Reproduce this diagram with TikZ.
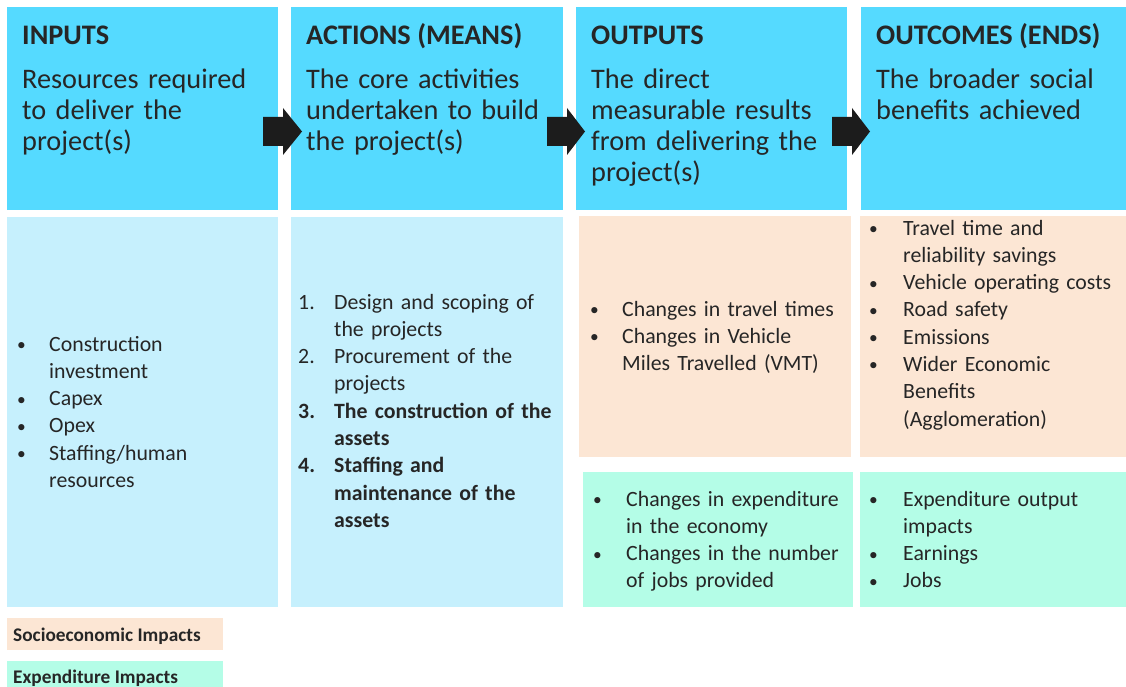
\documentclass[tikz,border=0pt]{standalone}
\usepackage{fontspec}
\setmainfont{Carlito}
\definecolor{topc}{HTML}{55DAFF}
\definecolor{lightc}{HTML}{C6F0FD}
\definecolor{peach}{HTML}{FCE6D4}
\definecolor{mint}{HTML}{B4FDE7}
\definecolor{ink}{HTML}{262626}
\definecolor{arr}{HTML}{1C1C1C}
\newcommand\itm[3]{\noindent\hangindent=#1\hangafter=1\makebox[#1][l]{#2}#3\par}
\newcommand\bul{\raisebox{0.6pt}{\scalebox{0.8}{\textbullet}}}
\begin{document}
\begin{tikzpicture}[x=1pt,y=-1pt,
  panel/.style={anchor=north west,inner sep=0,outer sep=0,draw=none},
  head/.style={anchor=base west,inner sep=0,text=ink,font=\fontsize{28.3}{31}\selectfont\bfseries},
  body/.style={anchor=base west,inner sep=0,text=ink,align=left,text width=#1,font=\fontsize{28.3}{31}\selectfont},
  list/.style={anchor=base west,inner sep=0,text=ink,align=left,text width=#1,font=\fontsize{21.8}{27.3}\selectfont},
  legend/.style={anchor=base west,inner sep=0,text=ink,font=\fontsize{19.3}{22}\selectfont\bfseries},
  blockarrow/.style={fill=arr,draw=none}]
\useasboundingbox (0,0) rectangle (1126,687);
% top row
\node[panel,fill=topc,minimum width=271pt,minimum height=203pt] (b1) at (7,7) {};
\node[panel,fill=topc,minimum width=272pt,minimum height=203pt] (b2) at (291,7) {};
\node[panel,fill=topc,minimum width=271pt,minimum height=203pt] (b3) at (576,7) {};
\node[panel,fill=topc,minimum width=265pt,minimum height=203pt] (b4) at (861,7) {};
% bottom row
\node[panel,fill=lightc,minimum width=271pt,minimum height=390pt] (c1) at (7,217) {};
\node[panel,fill=lightc,minimum width=272pt,minimum height=390pt] (c2) at (291,217) {};
\node[panel,fill=peach,minimum width=272pt,minimum height=241pt] (s3) at (579,216) {};
\node[panel,fill=peach,minimum width=266pt,minimum height=241pt] (s4) at (860,216) {};
\node[panel,fill=mint,minimum width=270pt,minimum height=135pt] (e3) at (583,472) {};
\node[panel,fill=mint,minimum width=266pt,minimum height=135pt] (e4) at (860,472) {};
% legend
\node[panel,fill=peach,minimum width=216pt,minimum height=32pt] (l1) at (7,618) {};
\node[panel,fill=mint,minimum width=216pt,minimum height=26pt] (l2) at (7,661) {};
\node[legend] (l1t) at (13,641) {Socioeconomic Impacts};
\node[legend] (l2t) at (13,683) {Expenditure Impacts};
% block arrows
\fill[blockarrow] (263,117) -- (283,117) -- (283,108) -- (302,131.5) -- (283,155) -- (283,146) -- (263,146) -- cycle;
\fill[blockarrow] (547,117) -- (567,117) -- (567,108) -- (585,131.5) -- (567,155) -- (567,146) -- (547,146) -- cycle;
\fill[blockarrow] (832,117) -- (852,117) -- (852,108) -- (870,131.5) -- (852,155) -- (852,146) -- (832,146) -- cycle;
% headings
\node[head] (h1) at (22,45) {INPUTS};
\node[head] (h2) at (306,45) {ACTIONS (MEANS)};
\node[head] (h3) at (591,45) {OUTPUTS};
\node[head] (h4) at (876,45) {OUTCOMES (ENDS)};
\node[body=280pt] (d1) at (22,89) {Resources required\\to deliver the\\project(s)};
\node[body=280pt] (d2) at (306,89) {The core activities\\undertaken to build\\the project(s)};
\node[body=280pt] (d3) at (591,89) {The direct\\measurable results\\from delivering the\\project(s)};
\node[body=280pt] (d4) at (876,89) {The broader social\\benefits achieved};
% lists
\node[list=290pt] (i1) at (17,351) {%
\itm{32pt}{\bul}{Construction\newline investment}%
\itm{32pt}{\bul}{Capex}%
\itm{32pt}{\bul}{Opex}%
\itm{32pt}{\bul}{Staffing/human\newline resources}};
\node[list=290pt] (i2) at (298,309) {%
\itm{36pt}{1.}{Design and scoping of\newline the projects}%
\itm{36pt}{2.}{Procurement of the\newline projects}%
\itm{36pt}{\bfseries 3.}{\bfseries The construction of the\newline assets}%
\itm{36pt}{\bfseries 4.}{\bfseries Staffing and\newline maintenance of the\newline assets}};
\node[list=290pt] (i3) at (590,316) {%
\itm{32pt}{\bul}{Changes in travel times}%
\itm{32pt}{\bul}{Changes in Vehicle\newline Miles Travelled (VMT)}};
\node[list=290pt] (i4) at (869,235) {%
\itm{34pt}{\bul}{Travel time and\newline reliability savings}%
\itm{34pt}{\bul}{Vehicle operating costs}%
\itm{34pt}{\bul}{Road safety}%
\itm{34pt}{\bul}{Emissions}%
\itm{34pt}{\bul}{Wider Economic\newline Benefits\newline (Agglomeration)}};
\node[list=290pt] (i5) at (593,506) {%
\itm{33pt}{\bul}{Changes in expenditure\newline in the economy}%
\itm{33pt}{\bul}{Changes in the number\newline of jobs provided}};
\node[list=290pt] (i6) at (869,506) {%
\itm{34pt}{\bul}{Expenditure output\newline impacts}%
\itm{34pt}{\bul}{Earnings}%
\itm{34pt}{\bul}{Jobs}};
\end{tikzpicture}
\end{document}
